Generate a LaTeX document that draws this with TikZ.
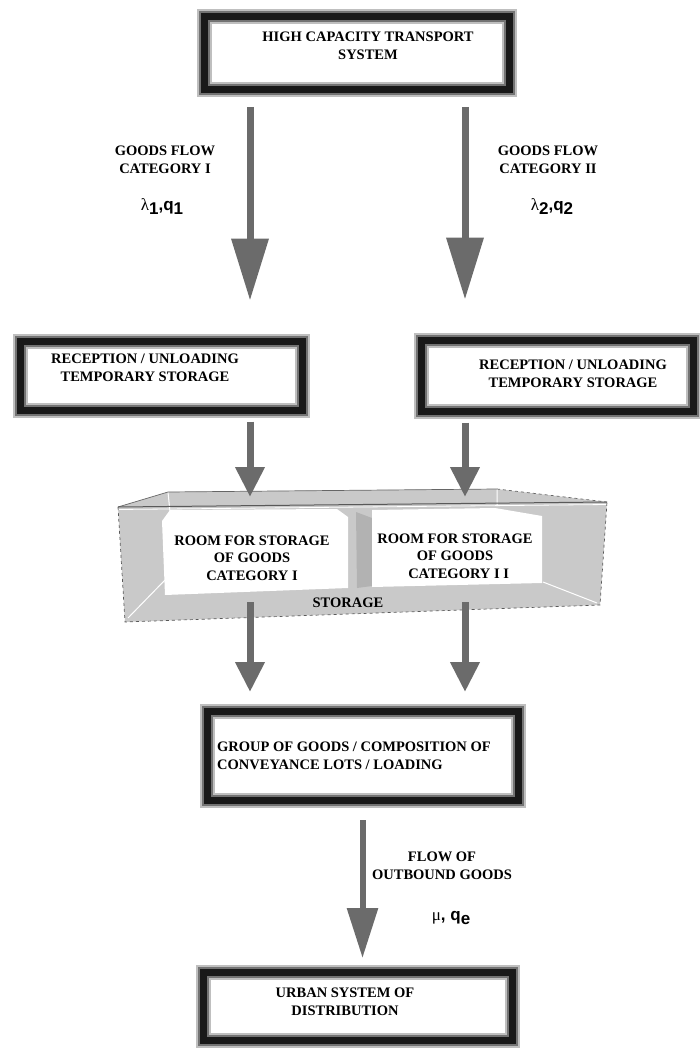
\documentclass[tikz,border=0pt]{standalone}
\usepackage{fontspec}
\setmainfont{Liberation Serif}
\newfontfamily\lamfont{Liberation Serif}
\newfontfamily\qfont{Liberation Sans}
\usetikzlibrary{arrows.meta}
\tikzset{
	stage/.style={rectangle, draw=black!90, line width=7pt, inner sep=0pt,
		preaction={fill=white, draw=black!25, line width=15pt},
		preaction={draw=black!55, line width=11pt}},
	caption/.style={align=center, inner sep=0pt, font=\fontsize{14.5}{17.5}\selectfont\bfseries},
	rate/.style={inner sep=0pt, font=\fontsize{17}{19}\selectfont},
	bigflow/.style={draw=black!58, line width=7pt, -{Triangle[width=36pt,length=62pt]}},
	flow/.style={draw=black!58, line width=7pt, -{Triangle[width=28pt,length=30pt]}},
	outflow/.style={draw=black!58, line width=6pt, -{Triangle[width=30pt,length=50pt]}},
}
\newcommand{\sub}[1]{\raisebox{-4pt}{\qfont\bfseries #1}}
\begin{document}
\begin{tikzpicture}[x=1pt, y=-1pt]
	\useasboundingbox (0,0) rectangle (699,1051);
	\coordinate (lane1) at (250,0);
	\coordinate (lane2) at (465,0);
	% boxes
	\node[stage, minimum width=305pt, minimum height=73pt] at (356.5, 53.5) (top) {};
	\node[stage, minimum width=282pt, minimum height=69pt] at (161, 375.5) (rec1) {};
	\node[stage, minimum width=272pt, minimum height=71pt] at (557, 375.5) (rec2) {};
	\node[stage, minimum width=311pt, minimum height=89pt] at (362.5, 755.5) (group) {};
	\node[stage, minimum width=309pt, minimum height=68pt] at (357.5, 1006) (urban) {};
	\node[caption] at (368, 46) (toptxt) {HIGH CAPACITY TRANSPORT\\SYSTEM};
	\node[caption] at (145, 368) (rec1txt) {RECEPTION / UNLOADING\\TEMPORARY STORAGE};
	\node[caption] at (573, 374) (rec2txt) {RECEPTION / UNLOADING\\TEMPORARY STORAGE};
	\node[caption, anchor=west, align=left] at (217, 756) (grouptxt) {GROUP OF GOODS / COMPOSITION OF\\CONVEYANCE LOTS / LOADING};
	\node[caption] at (345, 1002) (urbantxt) {URBAN SYSTEM OF\\DISTRIBUTION};
	% storage
	\fill[black!21] (118,507) -- (168,492) -- (497,489) -- (607,502) -- (600,605) -- (125,622) -- cycle;
	\draw[white, line width=1pt] (168,492) -- (170,512) (497,489) -- (497,506) (165,580) -- (128,618) (543,582) -- (597,603);
	\draw[black!60, line width=0.7pt] (118,507) -- (168,492) -- (497,489);
	\draw[black!60, line width=0.7pt, dashed] (497,489) -- (607,502);
	\draw[black!65, line width=1pt] (118,507) -- (607,502);
	\draw[white, line width=0.8pt] (118,509.5) -- (607,504.5);
	\draw[black!65, line width=0.7pt, dashed] (118,507) -- (125,622) -- (600,605) -- (607,502);
	\fill[white] (170,510) -- (337,509) -- (348,517) -- (348,588) -- (165,595) -- (162,521) -- cycle;
	\fill[black!30] (356,512) -- (372,518) -- (372,586) -- (357,588) -- cycle;
	\fill[white] (372,510) -- (495,508) -- (542,516) -- (542,583) -- (372,587) -- cycle;
	\coordinate (in1) at (250,497);
	\coordinate (in2) at (465,497);
	\coordinate (out1) at (250,602);
	\coordinate (out2) at (465,602);
	\node[caption] at (252, 558) (room1) {ROOM FOR STORAGE\\OF GOODS\\CATEGORY I};
	\node[caption] at (455, 556) (room2) {ROOM FOR STORAGE\\OF GOODS\\\ \ CATEGORY I I};
	\node[caption] at (348, 603) (store) {STORAGE};
	% flows
	\draw[bigflow, shorten <=13.5pt, shorten >=37pt] (top.south -| lane1) -- (rec1.north -| lane1);
	\draw[bigflow, shorten <=13.5pt, shorten >=37pt] (top.south -| lane2) -- (rec2.north -| lane2);
	\draw[flow, shorten <=8pt] (rec1.south -| in1) -- (in1);
	\draw[flow, shorten <=8pt] (rec2.south -| in2) -- (in2);
	\draw[flow, shorten >=15.5pt] (out1) -- (group.north -| out1);
	\draw[flow, shorten >=15.5pt] (out2) -- (group.north -| out2);
	\draw[outflow, shorten <=16.5pt, shorten >=10.5pt] (group.south) -- (urban.north -| group.south);
	\node[caption] at (165, 160) (cat1) {GOODS FLOW\\CATEGORY I};
	\node[rate] at (162, 207) (rate1) {{\lamfont λ}\sub{1}{\qfont\bfseries ,q\sub{1}}};
	\node[caption] at (548, 160) (cat2) {GOODS FLOW\\CATEGORY II};
	\node[rate] at (552, 207) (rate2) {{\lamfont λ}\sub{2}{\qfont\bfseries ,q\sub{2}}};
	\node[caption] at (442, 866) (outtxt) {FLOW OF\\OUTBOUND GOODS};
	\node[rate] at (451, 918) (rate3) {{\lamfont μ}{\qfont\bfseries , q\sub{e}}};
\end{tikzpicture}
\end{document}
